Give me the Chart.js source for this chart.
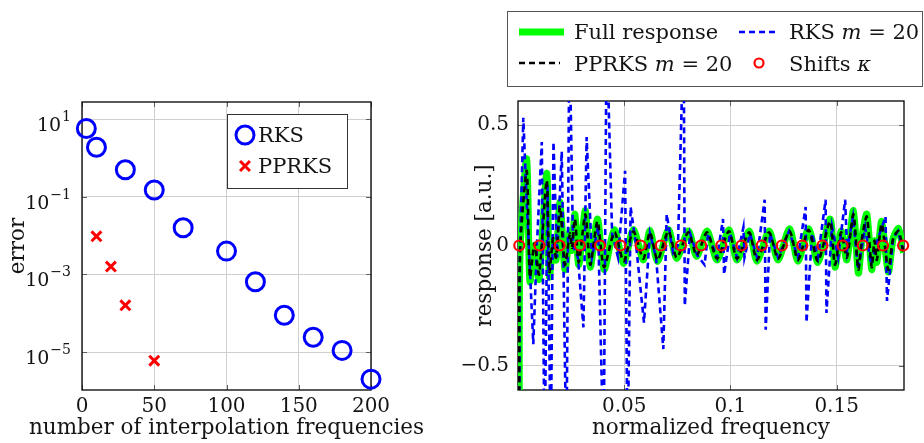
<!DOCTYPE html>
<html>
<head>
<meta charset="utf-8">
<script src="https://cdn.jsdelivr.net/npm/chart.js@4.4.1/dist/chart.umd.min.js"></script>
<style>
  html, body { margin: 0; padding: 0; background: #fff; }
  #wrap { position: relative; width: 924px; height: 443px; overflow: hidden; }
  canvas { position: absolute; top: 0; }
  #errChart { left: 0; }
  #respChart { left: 460px; }
</style>
</head>
<body>
<div id="wrap">
  <canvas id="errChart" width="460" height="443"></canvas>
  <canvas id="respChart" width="464" height="443"></canvas>
</div>
<script>
// --- error vs. number of interpolation frequencies ---
const rksN = [3, 10, 30, 50, 70, 100, 120, 140, 160, 180, 200];
const rksErr = [5.8, 1.9, 0.50, 0.15, 0.016, 0.0040, 6.5e-4, 8.9e-5, 2.4e-5, 1.1e-5, 2.0e-6];
const pprksN = [10, 20, 30, 50];
const pprksErr = [9.6e-3, 1.6e-3, 1.6e-4, 6.0e-6];
const nTicks = [0, 50, 100, 150, 200];
const errTicks = [1e-5, 1e-3, 1e-1, 1e1];
const errTickExp = ['\u22125', '\u22123', '\u22121', '1'];

// --- response vs. normalized frequency ---
const fullFreq = [0.0006, 0.0009, 0.0041, 0.0056, 0.0078, 0.0099, 0.0135, 0.0148, 0.0165, 0.0179,
                  0.0198, 0.0221, 0.0245, 0.0254, 0.0268, 0.0286, 0.0317, 0.0340, 0.0374, 0.0405,
                  0.0454, 0.0497, 0.0543, 0.0590, 0.0621, 0.0657, 0.0708, 0.0747, 0.0802, 0.0841,
                  0.0890, 0.0937, 0.0993, 0.1031, 0.1088, 0.1125, 0.1182, 0.1224, 0.1278, 0.1318,
                  0.1368, 0.1412, 0.1469, 0.1492, 0.1521, 0.1548, 0.1579, 0.1602, 0.1620, 0.1642,
                  0.1665, 0.1678, 0.1689, 0.1712, 0.1743, 0.1766, 0.1791, 0.1815];
const fullResp = [-0.90, -0.05, 0.36, -0.15, 0.00, -0.14, 0.30, -0.13, 0.02, -0.06,
                  0.18, -0.10, 0.06, -0.02, 0.13, -0.08, 0.145, -0.09, 0.11, -0.10,
                  0.065, -0.075, 0.066, -0.06, 0.062, -0.066, 0.066, -0.054, 0.06, -0.045,
                  0.06, -0.06, 0.065, -0.06, 0.06, -0.065, 0.06, -0.06, 0.07, -0.065,
                  0.07, -0.07, 0.11, -0.09, 0.06, -0.06, 0.145, -0.115, 0.04, 0.13,
                  -0.10, 0.02, -0.07, 0.10, -0.11, 0.03, 0.07, -0.03];
const pprksResp = [-0.90, -0.04, 0.31, -0.13, 0.01, -0.12, 0.27, -0.11, 0.03, -0.05,
                   0.16, -0.08, 0.05, -0.01, 0.11, -0.07, 0.13, -0.08, 0.10, -0.09,
                   0.055, -0.065, 0.058, -0.055, 0.055, -0.06, 0.06, -0.05, 0.055, -0.04,
                   0.055, -0.055, 0.06, -0.055, 0.055, -0.06, 0.055, -0.055, 0.06, -0.06,
                   0.065, -0.065, 0.10, -0.08, 0.055, -0.05, 0.13, -0.10, 0.035, 0.12,
                   -0.09, 0.02, -0.06, 0.09, -0.10, 0.03, 0.06, -0.03];
const rksFreq = [0.0006, 0.0009, 0.0025, 0.0040, 0.0056, 0.0072, 0.0089, 0.0112, 0.0125, 0.0139,
                 0.0154, 0.0167, 0.0184, 0.0206, 0.0228, 0.0242, 0.0259, 0.0282, 0.0308, 0.0323,
                 0.0348, 0.0377, 0.0403, 0.0417, 0.0443, 0.0471, 0.0504, 0.0516, 0.0530, 0.0556,
                 0.0593, 0.0621, 0.0650, 0.0684, 0.0700, 0.0730, 0.0753, 0.0780, 0.0785, 0.0810,
                 0.0843, 0.0878, 0.0895, 0.0937, 0.0965, 0.0970, 0.0998, 0.1031, 0.1061, 0.1066,
                 0.1092, 0.1125, 0.1161, 0.1166, 0.1186, 0.1224, 0.1276, 0.1318, 0.1354, 0.1358,
                 0.1384, 0.1412, 0.1448, 0.1452, 0.1478, 0.1507, 0.1540, 0.1549, 0.1577, 0.1601,
                 0.1634, 0.1662, 0.1695, 0.1730, 0.1737, 0.1766, 0.1789, 0.1815];
const rksResp = [-0.90, -0.05, 0.53, 0.20, -0.10, -0.41, 0.00, 0.43, -0.90, 0.25,
                 -0.90, 0.43, -0.05, 0.39, -0.90, 0.90, 0.00, -0.05, -0.34, 0.45,
                 -0.05, 0.08, -0.90, 0.90, 0.05, -0.05, 0.31, -0.90, 0.16, 0.00,
                 -0.32, 0.05, -0.05, -0.43, 0.13, -0.03, 0.00, 0.90, -0.25, 0.05,
                 -0.04, -0.08, 0.05, -0.05, 0.11, -0.12, 0.05, -0.05, 0.075, -0.05,
                 0.05, -0.05, 0.19, -0.35, 0.05, -0.05, 0.06, -0.05, 0.16, -0.32,
                 0.05, -0.05, 0.19, -0.28, 0.08, -0.05, 0.19, -0.02, 0.12, -0.10,
                 0.075, -0.08, 0.03, 0.12, -0.23, 0.03, 0.06, -0.03];
const shifts = [0.0006, 0.0101, 0.0196, 0.0291, 0.0386, 0.0482, 0.0577, 0.0672, 0.0767, 0.0862,
                0.0957, 0.1052, 0.1147, 0.1242, 0.1338, 0.1433, 0.1528, 0.1623, 0.1718, 0.1813];
const freqTicks = [0.05, 0.1, 0.15];
const freqTickLabels = ['0.05', '0.1', '0.15'];
const respTicks = [-0.5, 0, 0.5];
const respTickLabels = ['\u22120.5', '0', '0.5'];

const INK = '#141414';
const GRID = '#cfcfcf';
const FONT = "'DejaVu Serif', 'Liberation Serif', serif";
const TICK_FS = 20;
const TITLE_FS = 21.5;
const LEGEND_FS = 21;

Chart.defaults.font.family = FONT;
Chart.defaults.font.size = TICK_FS;
Chart.defaults.color = INK;

const pairs = (xs, ys) => xs.map((x, i) => ({ x: x, y: ys[i] }));

// box around the plot area plus short inward tick marks, pgfplots style
const axisFrame = {
  id: 'axisFrame',
  beforeDatasetsDraw(chart) {
    const { ctx, chartArea: a, scales } = chart;
    ctx.save();
    ctx.strokeStyle = '#606060';
    ctx.lineWidth = 1;
    ctx.beginPath();
    scales.x.ticks.forEach(t => {
      const px = Math.round(scales.x.getPixelForValue(t.value)) + 0.5;
      ctx.moveTo(px, a.bottom); ctx.lineTo(px, a.bottom - 5);
      ctx.moveTo(px, a.top); ctx.lineTo(px, a.top + 5);
    });
    scales.y.ticks.forEach(t => {
      const py = Math.round(scales.y.getPixelForValue(t.value)) + 0.5;
      ctx.moveTo(a.left, py); ctx.lineTo(a.left + 5, py);
      ctx.moveTo(a.right, py); ctx.lineTo(a.right - 5, py);
    });
    ctx.stroke();
    ctx.strokeStyle = '#000';
    ctx.lineWidth = 1.3;
    ctx.strokeRect(a.left, a.top, a.right - a.left, a.bottom - a.top);
    ctx.restore();
  }
};

// x-axis title, drawn centred under the plot without width limit
const xTitle = {
  id: 'xTitle',
  afterDraw(chart, args, opts) {
    const { ctx, chartArea: a } = chart;
    ctx.save();
    ctx.font = TITLE_FS + 'px ' + FONT;
    ctx.fillStyle = INK;
    ctx.textAlign = 'center';
    ctx.textBaseline = 'alphabetic';
    ctx.fillText(opts.text, (a.left + a.right) / 2, 434);
    ctx.restore();
  }
};

// decade labels 10^k with a raised exponent
const powerLabels = {
  id: 'powerLabels',
  afterDraw(chart) {
    const { ctx, scales } = chart;
    const right = 71;
    ctx.save();
    ctx.fillStyle = INK;
    ctx.textBaseline = 'alphabetic';
    ctx.textAlign = 'left';
    scales.y.ticks.forEach((t, i) => {
      const py = scales.y.getPixelForValue(t.value);
      ctx.font = '14px ' + FONT;
      const ew = ctx.measureText(errTickExp[i]).width;
      ctx.font = '19px ' + FONT;
      const bw = ctx.measureText('10').width;
      const x0 = right - ew - bw - 1;
      ctx.fillText('10', x0, py + 12);
      ctx.font = '14px ' + FONT;
      ctx.fillText(errTickExp[i], x0 + bw + 1, py + 2);
    });
    ctx.restore();
  }
};

function textRuns(ctx, runs, x, y) {
  runs.forEach(r => {
    ctx.font = (r[1] ? 'italic ' : '') + LEGEND_FS + 'px ' + FONT;
    ctx.fillText(r[0], x, y);
    x += ctx.measureText(r[0]).width;
  });
}

const errLegend = {
  id: 'errLegend',
  afterDraw(chart) {
    const ctx = chart.ctx;
    ctx.save();
    ctx.fillStyle = '#fff';
    ctx.fillRect(227, 114, 120, 74);
    ctx.strokeStyle = '#333';
    ctx.lineWidth = 1;
    ctx.strokeRect(227.5, 114.5, 120, 74);
    const ds = chart.data.datasets;
    // circle marker
    ctx.strokeStyle = ds[0].borderColor;
    ctx.lineWidth = ds[0].borderWidth;
    ctx.beginPath();
    ctx.arc(245, 135, ds[0].pointRadius, 0, Math.PI * 2);
    ctx.stroke();
    // cross marker
    ctx.strokeStyle = ds[1].borderColor;
    ctx.lineWidth = ds[1].borderWidth;
    const h = ds[1].pointRadius * Math.SQRT1_2;
    ctx.beginPath();
    ctx.moveTo(245 - h, 166 - h); ctx.lineTo(245 + h, 166 + h);
    ctx.moveTo(245 - h, 166 + h); ctx.lineTo(245 + h, 166 - h);
    ctx.stroke();
    ctx.fillStyle = INK;
    ctx.textBaseline = 'alphabetic';
    textRuns(ctx, [[ds[0].label, false]], 258, 142);
    textRuns(ctx, [[ds[1].label, false]], 258, 173);
    ctx.restore();
  }
};

const respLegend = {
  id: 'respLegend',
  afterDraw(chart) {
    const ctx = chart.ctx;
    const ds = chart.data.datasets;
    ctx.save();
    ctx.fillStyle = '#fff';
    ctx.fillRect(47, 11, 416, 75);
    ctx.strokeStyle = '#555';
    ctx.lineWidth = 1;
    ctx.strokeRect(47.5, 11.5, 415, 75);
    const sample = (d, x0, x1, y) => {
      ctx.strokeStyle = d.borderColor;
      ctx.lineWidth = d.borderWidth;
      ctx.setLineDash(d.borderDash || []);
      ctx.beginPath();
      ctx.moveTo(x0, y); ctx.lineTo(x1, y);
      ctx.stroke();
      ctx.setLineDash([]);
    };
    sample(ds[0], 59, 104, 32);
    sample(ds[1], 279, 317, 32);
    sample(ds[2], 59, 100, 63);
    ctx.strokeStyle = ds[3].borderColor;
    ctx.lineWidth = ds[3].borderWidth;
    ctx.beginPath();
    ctx.arc(299, 63, 4.5, 0, Math.PI * 2);
    ctx.stroke();
    ctx.fillStyle = INK;
    ctx.textBaseline = 'alphabetic';
    textRuns(ctx, [['Full response', false]], 114, 39);
    textRuns(ctx, [['RKS ', false], ['m', true], [' = 20', false]], 329, 39);
    textRuns(ctx, [['PPRKS ', false], ['m', true], [' = 20', false]], 114, 71);
    textRuns(ctx, [['Shifts ', false], ['\u03BA', true]], 329, 71);
    ctx.restore();
  }
};

new Chart(document.getElementById('errChart'), {
  type: 'scatter',
  data: {
    datasets: [
      {
        label: 'RKS',
        data: pairs(rksN, rksErr),
        pointStyle: 'circle',
        pointRadius: 9,
        borderWidth: 3,
        borderColor: '#0000ff',
        backgroundColor: 'rgba(0,0,0,0)',
        clip: false
      },
      {
        label: 'PPRKS',
        data: pairs(pprksN, pprksErr),
        pointStyle: 'crossRot',
        pointRadius: 7,
        borderWidth: 3,
        borderColor: '#ff0000',
        backgroundColor: '#ff0000',
        clip: false
      }
    ]
  },
  options: {
    responsive: false,
    animation: false,
    events: [],
    layout: { padding: { left: 0, top: 102, right: 89, bottom: 0 } },
    plugins: {
      legend: { display: false },
      tooltip: { enabled: false },
      xTitle: { text: 'number of interpolation frequencies' }
    },
    scales: {
      x: {
        type: 'linear',
        min: 0,
        max: 200,
        afterFit: s => { s.height = 53; },
        afterBuildTicks: s => { s.ticks = nTicks.map(v => ({ value: v })); },
        grid: { color: GRID, drawTicks: false },
        border: { display: false },
        ticks: { padding: 5, maxRotation: 0, autoSkip: false, callback: v => String(v) }
      },
      y: {
        type: 'logarithmic',
        min: 1.05e-6,
        max: 27.9,
        afterFit: s => { s.width = 82; },
        afterBuildTicks: s => { s.ticks = errTicks.map(v => ({ value: v })); },
        grid: { color: GRID, drawTicks: false },
        border: { display: false },
        ticks: { display: false },
        title: { display: true, text: 'error', font: { size: TITLE_FS }, padding: { top: 6, bottom: 0 } }
      }
    }
  },
  plugins: [axisFrame, errLegend, xTitle, powerLabels]
});

new Chart(document.getElementById('respChart'), {
  type: 'line',
  data: {
    datasets: [
      {
        label: 'Full response',
        data: pairs(fullFreq, fullResp),
        borderColor: '#00ff00',
        borderWidth: 7,
        pointRadius: 0,
        tension: 0.25,
        order: 3
      },
      {
        label: 'RKS m = 20',
        data: pairs(rksFreq, rksResp),
        borderColor: '#0000ff',
        borderWidth: 2.6,
        borderDash: [6, 4],
        pointRadius: 0,
        tension: 0,
        order: 2
      },
      {
        label: 'PPRKS m = 20',
        data: pairs(fullFreq, pprksResp),
        borderColor: '#000000',
        borderWidth: 2.6,
        borderDash: [6, 4],
        pointRadius: 0,
        tension: 0.25,
        order: 1
      },
      {
        label: 'Shifts \u03BA',
        data: shifts.map(k => ({ x: k, y: 0 })),
        showLine: false,
        pointStyle: 'circle',
        pointRadius: 5,
        borderWidth: 2.2,
        borderColor: '#ff0000',
        backgroundColor: 'rgba(0,0,0,0)',
        clip: false,
        order: 0
      }
    ]
  },
  options: {
    responsive: false,
    animation: false,
    events: [],
    layout: { padding: { left: 0, top: 101, right: 20, bottom: 0 } },
    plugins: {
      legend: { display: false },
      tooltip: { enabled: false },
      xTitle: { text: 'normalized frequency' }
    },
    scales: {
      x: {
        type: 'linear',
        min: 0,
        max: 0.1817,
        afterFit: s => { s.height = 53; },
        afterBuildTicks: s => { s.ticks = freqTicks.map(v => ({ value: v })); },
        grid: { color: GRID, drawTicks: false },
        border: { display: false },
        ticks: { padding: 5, maxRotation: 0, autoSkip: false, callback: (v, i) => freqTickLabels[i] }
      },
      y: {
        type: 'linear',
        min: -0.6,
        max: 0.6,
        afterFit: s => { s.width = 58; },
        afterBuildTicks: s => { s.ticks = respTicks.map(v => ({ value: v })); },
        grid: { color: GRID, drawTicks: false },
        border: { display: false },
        ticks: { padding: 9, autoSkip: false, callback: (v, i) => respTickLabels[i] },
        title: { display: true, text: 'response [a.u.]', font: { size: TITLE_FS }, padding: { top: 13, bottom: 0 } }
      }
    }
  },
  plugins: [axisFrame, respLegend, xTitle]
});
</script>
</body>
</html>
